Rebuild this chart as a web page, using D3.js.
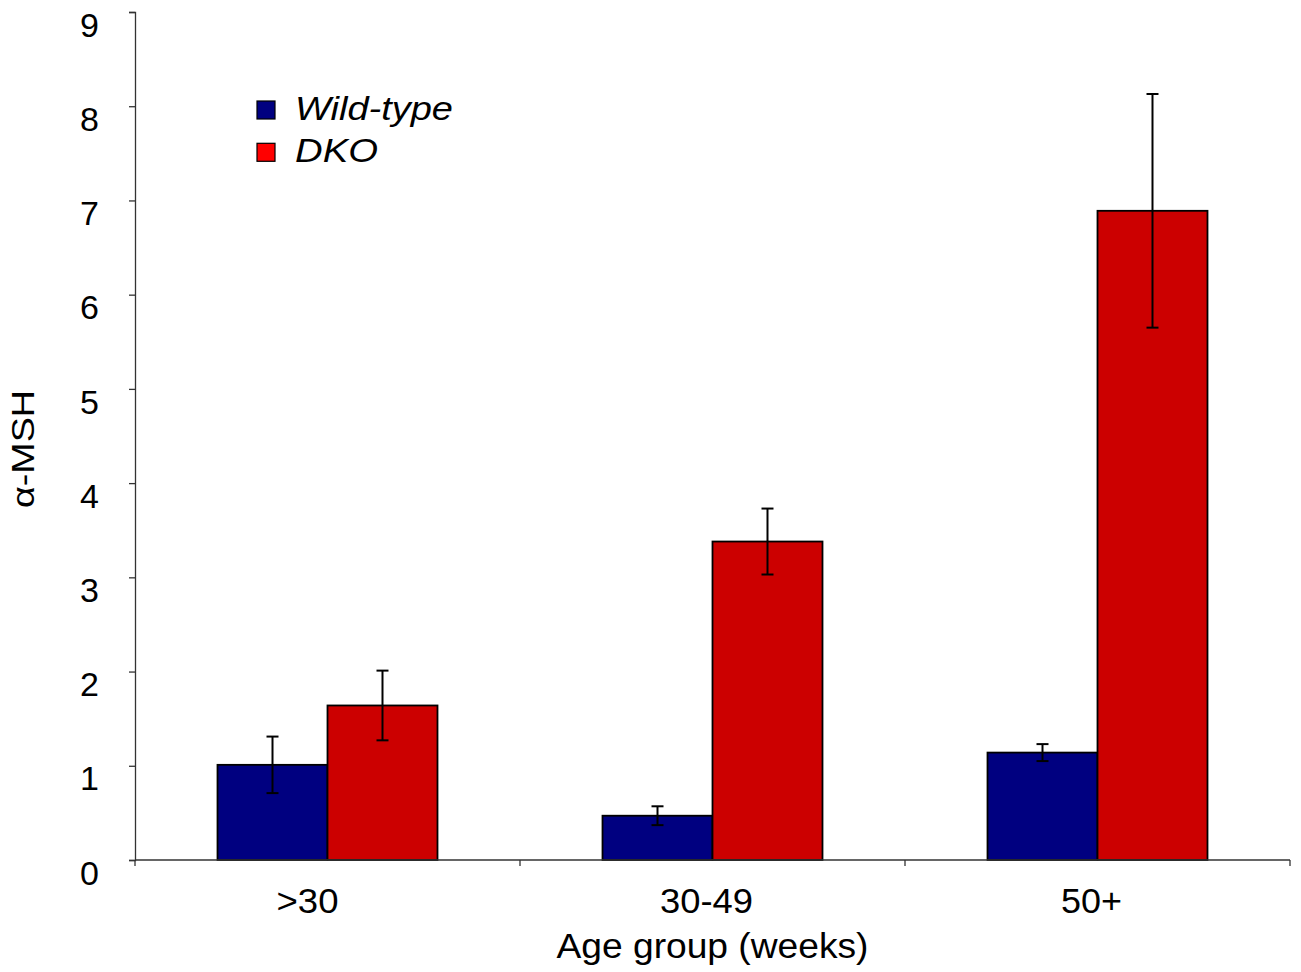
<!DOCTYPE html>
<html><head><meta charset="utf-8">
<script src="https://cdn.jsdelivr.net/npm/d3@7"></script>
<style>body{margin:0;background:#fff;}svg{display:block;font-family:"Liberation Sans",Arial,sans-serif;}</style>
</head><body>
<svg id="chart" width="1301" height="972"></svg>
<script>
const categories = [">30", "30-49", "50+"];
const seriesNames = ["Wild-type", "DKO"];
const wildType = [1.01, 0.47, 1.14];
const wildTypeErr = [0.30, 0.10, 0.09];
const dko = [1.64, 3.38, 6.89];
const dkoErr = [0.37, 0.35, 1.24];
const yTicks = [0,1,2,3,4,5,6,7,8,9];
const barColors = ["#000080", "#CC0000"];
const legendColors = ["#000080", "#FF0000"];

(function(){
const svg = d3.select("#chart");
const mLeft = 135, mRight = 1290, mTop = 12, mBottom = 860;

const y = d3.scaleLinear().domain([0, 9]).range([mBottom, mTop]);
const x0 = d3.scaleBand().domain(categories).range([mLeft, mRight]).padding(0);
const bw = x0.bandwidth();
const x1 = d3.scaleBand().domain(seriesNames).range([bw*0.2143, bw*0.7857]).padding(0);

const data = categories.map((c, i) => ({
  cat: c,
  vals: [
    {s: seriesNames[0], v: wildType[i], e: wildTypeErr[i], c: barColors[0]},
    {s: seriesNames[1], v: dko[i], e: dkoErr[i], c: barColors[1]}
  ]
}));

const g = svg.append("g").selectAll("g").data(data).join("g")
  .attr("transform", d => `translate(${x0(d.cat)},0)`);

g.selectAll("rect").data(d => d.vals).join("rect")
  .attr("x", d => x1(d.s))
  .attr("y", d => y(d.v))
  .attr("width", x1.bandwidth())
  .attr("height", d => y(0) - y(d.v))
  .attr("fill", d => d.c)
  .attr("stroke", "#000")
  .attr("stroke-width", 1.8);

const eb = g.selectAll("g.eb").data(d => d.vals).join("g").attr("class", "eb")
  .attr("stroke", "#000").attr("stroke-width", 2);
eb.append("line")
  .attr("x1", d => x1(d.s) + x1.bandwidth()/2).attr("x2", d => x1(d.s) + x1.bandwidth()/2)
  .attr("y1", d => y(d.v + d.e)).attr("y2", d => y(d.v - d.e));
eb.append("line")
  .attr("x1", d => x1(d.s) + x1.bandwidth()/2 - 6).attr("x2", d => x1(d.s) + x1.bandwidth()/2 + 6)
  .attr("y1", d => y(d.v + d.e)).attr("y2", d => y(d.v + d.e));
eb.append("line")
  .attr("x1", d => x1(d.s) + x1.bandwidth()/2 - 6).attr("x2", d => x1(d.s) + x1.bandwidth()/2 + 6)
  .attr("y1", d => y(d.v - d.e)).attr("y2", d => y(d.v - d.e));

// Y axis
const yAxis = svg.append("g").attr("transform", `translate(${mLeft},0)`)
  .call(d3.axisLeft(y).tickValues(yTicks).tickSize(6).tickSizeOuter(6).tickPadding(30).tickFormat(d3.format("d")));
yAxis.select(".domain").attr("stroke", "#333").attr("stroke-width", 1.3);
yAxis.selectAll(".tick line").attr("stroke", "#333").attr("stroke-width", 1.3);
yAxis.selectAll(".tick text").attr("font-size", 34).attr("fill", "#000").attr("dy", "0.71em")
  .attr("font-family", "'Liberation Sans', Arial, sans-serif");

// X axis: ticks at band boundaries
const boundaries = [mLeft].concat(categories.map(c => x0(c) + bw));
svg.append("line").attr("x1", mLeft).attr("x2", mRight).attr("y1", mBottom).attr("y2", mBottom)
  .attr("stroke", "#333").attr("stroke-width", 1.3);
svg.append("g").selectAll("line").data(boundaries).join("line")
  .attr("x1", d => d).attr("x2", d => d).attr("y1", mBottom).attr("y2", mBottom + 6)
  .attr("stroke", "#333").attr("stroke-width", 1.3);
const labelShift = {">30": -20, "30-49": -6, "50+": -6};
const labelLen = {">30": 62, "30-49": 93, "50+": 61};
svg.append("g").selectAll("text").data(categories).join("text")
  .attr("x", d => x0(d) + bw/2 + labelShift[d]).attr("y", 913)
  .attr("text-anchor", "middle").attr("font-size", 35).attr("fill", "#000")
  .attr("textLength", d => labelLen[d]).attr("lengthAdjust", "spacingAndGlyphs")
  .text(d => d);

svg.append("text").attr("x", 712.5).attr("y", 958).attr("text-anchor", "middle")
  .attr("font-size", 35).attr("fill", "#000")
  .attr("textLength", 312).attr("lengthAdjust", "spacingAndGlyphs")
  .text("Age group (weeks)");

svg.append("text").attr("transform", "translate(34,449) rotate(-90)")
  .attr("text-anchor", "middle").attr("font-size", 30.5).attr("fill", "#000")
  .attr("textLength", 118).attr("lengthAdjust", "spacingAndGlyphs")
  .text("α-MSH");

// Legend
const legLen = [158, 83];
const leg = svg.append("g").selectAll("g").data(seriesNames).join("g")
  .attr("transform", (d, i) => `translate(257,${101 + i*42.3})`);
leg.append("rect").attr("width", 18).attr("height", 18)
  .attr("fill", (d, i) => legendColors[i]).attr("stroke", "#000").attr("stroke-width", 1.2);
leg.append("text").attr("x", 38).attr("y", 18.5).attr("font-size", 34).attr("font-style", "italic")
  .attr("fill", "#000")
  .attr("textLength", (d, i) => legLen[i]).attr("lengthAdjust", "spacingAndGlyphs")
  .text(d => d);
})();
</script>
</body></html>
